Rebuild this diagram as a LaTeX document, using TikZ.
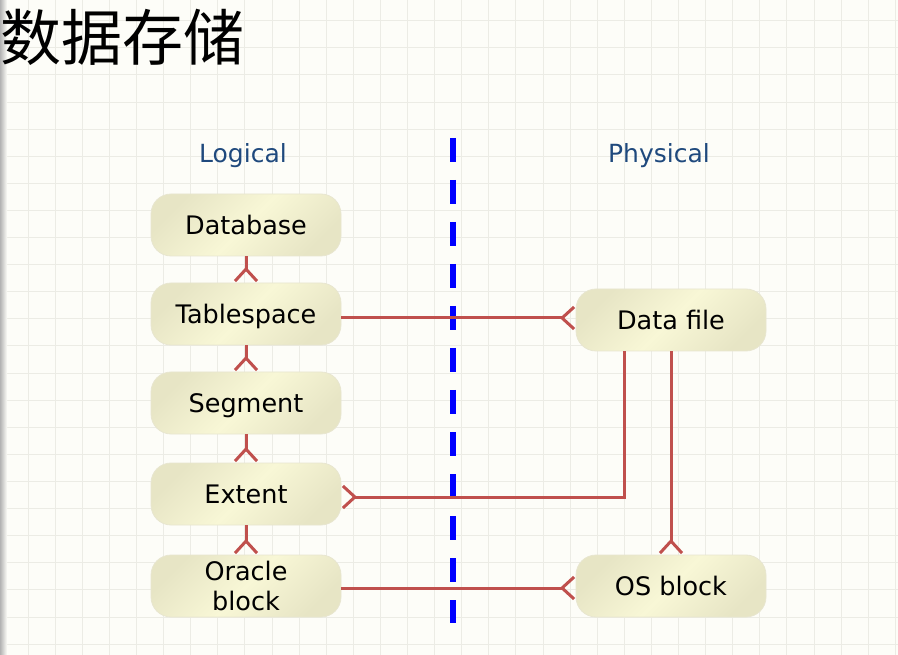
\documentclass[tikz,border=0pt]{standalone}
\usepackage{fontspec}
\setmainfont{DejaVu Sans}
\newfontfamily\cjk{Noto Sans CJK SC}
\usetikzlibrary{arrows.meta,positioning}
\definecolor{bgcol}{HTML}{FDFDF8}
\definecolor{gridcol}{HTML}{ECECE5}
\definecolor{linkred}{HTML}{C0504D}
\definecolor{labelblue}{HTML}{1F497D}
\definecolor{boxlight}{HTML}{F8F7D6}
\definecolor{boxdark}{HTML}{E7E5C5}
\definecolor{boxline}{HTML}{E8E6D0}

\begin{document}
\begin{tikzpicture}[x=1pt,y=1pt,
        box/.style = {rounded corners=20pt, minimum width=190pt, minimum height=62pt,
                      draw=boxline, line width=0.8pt, top color=boxdark, bottom color=boxdark,
                      middle color=boxlight, shading angle=45, inner sep=2pt,
                      font=\fontsize{25.5}{30}\selectfont, align=center},
        oneline/.style = {box, text depth=0pt},
        side/.style = {text=labelblue, font=\fontsize{25}{30}\selectfont, anchor=base},
        crow/.style = {draw=linkred, line width=3pt, -{Straight Barb[reversed,length=12pt,width=22pt]}},
        node distance={89pt}]
        % page, grid and title
        \useasboundingbox (0,0) rectangle (898,-655);
        \fill[bgcol] (0,0) rectangle (898,-655);
        \foreach \i in {0,...,33} \draw[gridcol, line width=1pt] ({1+27.1*\i},0) -- ({1+27.1*\i},-655);
        \foreach \j in {0,...,24} \draw[gridcol, line width=1pt] (0,{-20.8-27.1*\j}) -- (898,{-20.8-27.1*\j});
        \shade[left color=black!30, right color=bgcol] (0,0) rectangle (7,-655);
        \node[anchor=base west, inner sep=0pt, font=\fontsize{61}{62}\selectfont] (title) at (0,-61) {\cjk 数据存储};
        % logical side
        \node[side] (logical) at (243,-163) {Logical};
        \node[oneline] (db) at (246,-225) {Database};
        \node[oneline] (ts) [below of=db] {Tablespace};
        \node[oneline] (seg) [below of=ts] {Segment};
        \node[oneline] (ext) [below of=seg, yshift=-2pt] {Extent};
        \node[box] (ob) [below of=ext, yshift=-3pt] {Oracle\\block};
        % physical side
        \node[side] (physical) at (659,-163) {Physical};
        \node[oneline] (df) [right of=ts, node distance=425pt, yshift=-6pt] {Data file};
        \node[oneline] (osb) [right of=ob, node distance=425pt] {OS block};
        % divider
        \draw[blue, line width=5.5pt, dash pattern=on 24pt off 18pt] (453,-138) -- (453,-623);
        % links
        \draw[crow] (db) -- (ts);
        \draw[crow] (ts) -- (seg);
        \draw[crow] (seg) -- (ext);
        \draw[crow] (ext) -- (ob);
        \draw[crow] ([yshift=-4pt]ts.east) -- ([yshift=-4pt]ts.east -| df.west);
        \draw[crow] ([xshift=-47pt]df.south) |- ([yshift=-3pt]ext.east);
        \draw[crow] (df) -- (osb);
        \draw[crow] ([yshift=-2pt]ob.east) -- ([yshift=-2pt]ob.east -| osb.west);
\end{tikzpicture}
\end{document}
